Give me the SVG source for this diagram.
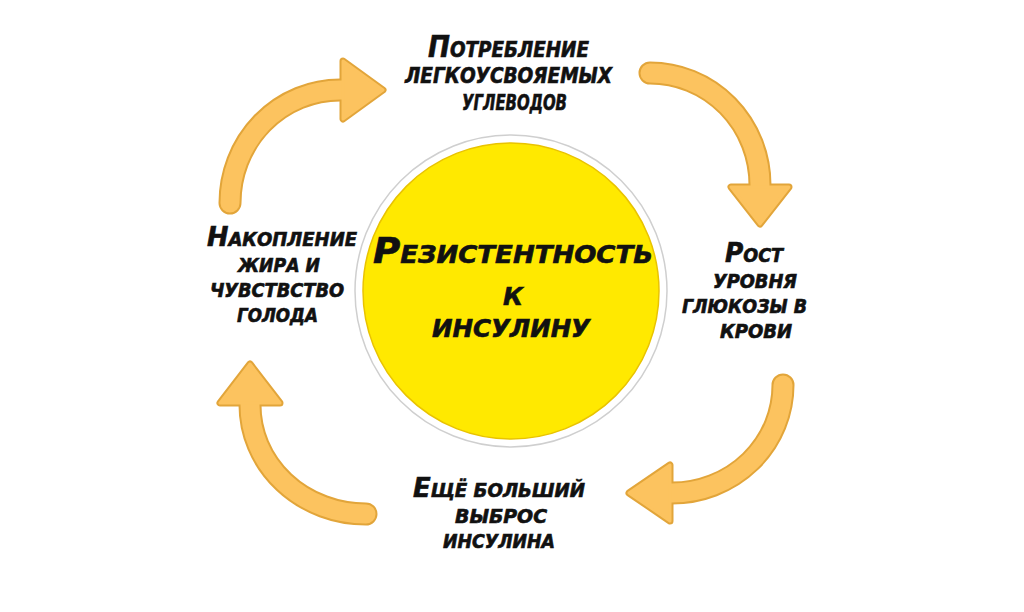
<svg xmlns="http://www.w3.org/2000/svg" width="1024" height="612" viewBox="0 0 1024 612">
<style>
.t{font-family:"DejaVu Sans Condensed","DejaVu Sans",sans-serif;font-stretch:condensed;font-weight:bold;font-style:italic;fill:#111;stroke:#111;stroke-width:0.6;text-anchor:middle}
.s{font-size:19px}
.s .f{font-size:27px}
.b{font-size:21px}
.b .f{font-size:30px}
.c{font-size:24.5px}
.c .f{font-size:35px}
.so{fill:none;stroke:#E2A53A;stroke-width:23;stroke-linecap:round}
.ho{fill:#E2A53A;stroke:#E2A53A;stroke-width:7;stroke-linejoin:round}
.sf{fill:none;stroke:#FCC35F;stroke-width:19;stroke-linecap:round}
.hf{fill:#FCC35F;stroke:#FCC35F;stroke-width:3;stroke-linejoin:round}
</style>
<rect width="1024" height="612" fill="#fff"/>
<g id="connectors">
  <g id="arrow-top-left">
    <path class="so" d="M230,203 A110,113 0 0 1 340,90 L350,90"/>
    <polygon class="ho" points="343,61 383,90 343,119"/>
    <path class="sf" d="M230,203 A110,113 0 0 1 340,90 L350,90"/>
    <polygon class="hf" points="343,61 383,90 343,119"/>
  </g>
  <g id="arrow-top-right">
    <path class="so" d="M650,73 A110,112 0 0 1 760,185 L760,195"/>
    <polygon class="ho" points="731,187 789,187 760,224"/>
    <path class="sf" d="M650,73 A110,112 0 0 1 760,185 L760,195"/>
    <polygon class="hf" points="731,187 789,187 760,224"/>
  </g>
  <g id="arrow-bottom-right">
    <path class="so" d="M783,385 A111,108 0 0 1 672,493 L662,493"/>
    <polygon class="ho" points="670,465 670,521 629,493"/>
    <path class="sf" d="M783,385 A111,108 0 0 1 672,493 L662,493"/>
    <polygon class="hf" points="670,465 670,521 629,493"/>
  </g>
  <g id="arrow-bottom-left">
    <path class="so" d="M366,514 A116,109 0 0 1 250,405 L250,395"/>
    <polygon class="ho" points="220,403 280,403 250,364"/>
    <path class="sf" d="M366,514 A116,109 0 0 1 250,405 L250,395"/>
    <polygon class="hf" points="220,403 280,403 250,364"/>
  </g>
</g>
<g id="center">
  <circle cx="511" cy="291" r="156" fill="#fff" stroke="#cfcfcf" stroke-width="1.5"/>
  <circle cx="511" cy="291" r="148" fill="#FFE900" stroke="#E9C300" stroke-width="1.5"/>
  <text class="t c" x="513" y="263" textLength="280" lengthAdjust="spacingAndGlyphs"><tspan class="f">Р</tspan>ЕЗИСТЕНТНОСТЬ</text>
  <text class="t c" x="513" y="305" textLength="20" lengthAdjust="spacingAndGlyphs">К</text>
  <text class="t c" x="511" y="337" textLength="158" lengthAdjust="spacingAndGlyphs">ИНСУЛИНУ</text>
</g>
<g id="node-top">
  <text class="t b" x="508.5" y="57" textLength="161" lengthAdjust="spacingAndGlyphs"><tspan class="f">П</tspan>ОТРЕБЛЕНИЕ</text>
  <text class="t b" x="508.5" y="83" textLength="207" lengthAdjust="spacingAndGlyphs">ЛЕГКОУСВОЯЕМЫХ</text>
  <text class="t b" x="514.5" y="110" textLength="105" lengthAdjust="spacingAndGlyphs">УГЛЕВОДОВ</text>
</g>
<g id="node-right">
  <text class="t s" x="754" y="262" textLength="58" lengthAdjust="spacingAndGlyphs"><tspan class="f">Р</tspan>ОСТ</text>
  <text class="t s" x="755" y="288" textLength="84" lengthAdjust="spacingAndGlyphs">УРОВНЯ</text>
  <text class="t s" x="744.5" y="313" textLength="125" lengthAdjust="spacingAndGlyphs">ГЛЮКОЗЫ В</text>
  <text class="t s" x="756" y="338" textLength="72" lengthAdjust="spacingAndGlyphs">КРОВИ</text>
</g>
<g id="node-bottom">
  <text class="t s" x="499" y="497" textLength="172" lengthAdjust="spacingAndGlyphs"><tspan class="f">Е</tspan>ЩЁ БОЛЬШИЙ</text>
  <text class="t s" x="501" y="523" textLength="92" lengthAdjust="spacingAndGlyphs">ВЫБРОС</text>
  <text class="t s" x="499" y="548" textLength="112" lengthAdjust="spacingAndGlyphs">ИНСУЛИНА</text>
</g>
<g id="node-left">
  <text class="t s" x="282" y="246" textLength="150" lengthAdjust="spacingAndGlyphs"><tspan class="f">Н</tspan>АКОПЛЕНИЕ</text>
  <text class="t s" x="279" y="272" textLength="82" lengthAdjust="spacingAndGlyphs">ЖИРА И</text>
  <text class="t s" x="277" y="297" textLength="134" lengthAdjust="spacingAndGlyphs">ЧУВСТВСТВО</text>
  <text class="t s" x="277.5" y="322" textLength="81" lengthAdjust="spacingAndGlyphs">ГОЛОДА</text>
</g>
</svg>
